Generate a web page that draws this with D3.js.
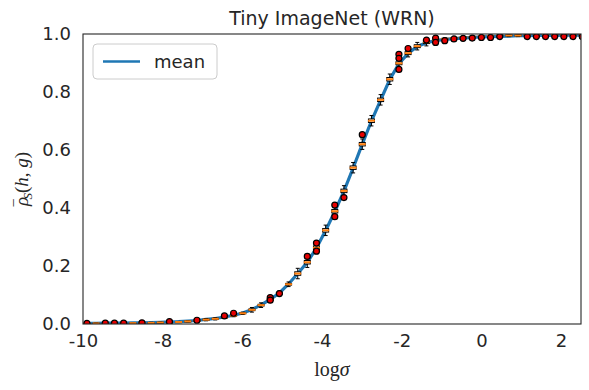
<!DOCTYPE html>
<html>
<head>
<meta charset="utf-8">
<script src="https://d3js.org/d3.v7.min.js"></script>
<style>
  body { margin: 0; background: #fff; }
  text { font-family: "DejaVu Sans", sans-serif; fill: #262626; }
</style>
</head>
<body>
<div class="sigmoid-chart"></div>
<script>
// log sigma positions (one box per sigma)
let logSigma = [-9.90,-9.67,-9.44,-9.21,-8.98,-8.75,-8.52,-8.29,-8.06,-7.83,-7.60,-7.37,-7.14,-6.91,-6.68,-6.45,-6.22,-5.99,-5.76,-5.53,-5.30,-5.07,-4.84,-4.61,-4.37,-4.14,-3.91,-3.68,-3.45,-3.22,-2.99,-2.76,-2.53,-2.30,-2.07,-1.84,-1.61,-1.38,-1.15,-0.92,-0.69,-0.46,-0.23,0.00,0.23,0.46,0.69,0.92,1.15,1.38,1.61,1.84,2.07,2.30,2.53];
let meanRho = [0.002,0.002,0.003,0.003,0.003,0.004,0.004,0.005,0.006,0.007,0.008,0.010,0.012,0.016,0.019,0.024,0.030,0.038,0.050,0.066,0.085,0.107,0.138,0.174,0.213,0.262,0.322,0.388,0.458,0.538,0.620,0.700,0.772,0.843,0.898,0.933,0.957,0.970,0.977,0.981,0.984,0.986,0.988,0.990,0.991,0.992,0.993,0.994,0.994,0.995,0.995,0.995,0.996,0.996,0.996];
let medianRho = [0.002,0.002,0.002,0.003,0.003,0.003,0.004,0.004,0.005,0.006,0.007,0.009,0.011,0.015,0.018,0.023,0.029,0.037,0.049,0.065,0.084,0.106,0.137,0.174,0.213,0.263,0.323,0.389,0.459,0.539,0.620,0.701,0.773,0.844,0.899,0.934,0.958,0.972,0.979,0.983,0.986,0.988,0.990,0.992,0.993,0.994,0.995,0.995,0.996,0.996,0.997,0.997,0.997,0.997,0.997];
// half height of the box (IQR) and of the whiskers
let boxHalf = [0.001,0.001,0.001,0.001,0.001,0.001,0.001,0.001,0.001,0.001,0.001,0.001,0.002,0.002,0.002,0.002,0.002,0.002,0.003,0.003,0.003,0.003,0.003,0.006,0.006,0.006,0.006,0.006,0.006,0.006,0.006,0.006,0.006,0.006,0.005,0.005,0.005,0.005,0.002,0.002,0.002,0.002,0.002,0.002,0.002,0.002,0.002,0.002,0.002,0.002,0.002,0.002,0.002,0.002,0.002];
let whiskHalf = [0.002,0.002,0.002,0.002,0.002,0.002,0.002,0.002,0.002,0.002,0.002,0.002,0.004,0.004,0.004,0.004,0.004,0.004,0.008,0.008,0.008,0.008,0.008,0.018,0.018,0.018,0.018,0.018,0.018,0.018,0.018,0.018,0.018,0.018,0.013,0.013,0.013,0.013,0.004,0.004,0.004,0.004,0.004,0.004,0.004,0.004,0.004,0.004,0.004,0.004,0.004,0.004,0.004,0.004,0.004];
// outlier points
let outlierX = [-9.90,-9.44,-9.21,-8.98,-8.52,-7.83,-7.14,-6.45,-6.22,-5.30,-5.30,-5.07,-4.37,-4.14,-4.14,-3.68,-3.68,-3.45,-2.99,-2.07,-2.07,-2.07,-1.84,-1.38,-1.15,-1.15,-0.92,-0.69,-0.46,-0.23,0.00,0.23,0.46,1.15,1.38,1.61,1.84,2.07,2.30,2.53];
let outlierY = [0.002,0.003,0.003,0.003,0.004,0.008,0.013,0.028,0.037,0.091,0.082,0.105,0.233,0.279,0.251,0.410,0.370,0.436,0.653,0.930,0.916,0.878,0.950,0.979,0.986,0.971,0.977,0.983,0.985,0.986,0.988,0.988,0.991,0.991,0.991,0.991,0.991,0.991,0.991,0.991];
let xTicks = [-10, -8, -6, -4, -2, 0, 2];
let yTicks = [0.0, 0.2, 0.4, 0.6, 0.8, 1.0];

let blue = "#1f77b4", orange = "#ff7f0e";

// set the dimensions and margins of the graph
let margin = { top: 34, right: 8, bottom: 66, left: 83 },
    width = 589 - margin.left - margin.right,
    height = 390 - margin.top - margin.bottom;

let root = d3.select(".sigmoid-chart")
    .append("svg")
    .attr("width", 589)
    .attr("height", 390);

let svg = root.append("g")
    .attr("transform", "translate(" + margin.left + "," + margin.top + ")");

root.append("defs").append("clipPath").attr("id", "plotclip")
    .append("rect").attr("width", width).attr("height", height);

let x = d3.scaleLinear().domain([-10, 2.5]).range([0, width]);
let y = d3.scaleLinear().domain([0, 1]).range([height, 0]);

let plot = svg.append("g").attr("clip-path", "url(#plotclip)");

// median dashed line (under the mean)
plot.append("path")
    .datum(logSigma)
    .attr("fill", "none")
    .attr("stroke", orange)
    .attr("stroke-width", 1.8)
    .attr("stroke-dasharray", "6,3")
    .attr("d", d3.line()
        .x(function (d) { return x(d) })
        .y(function (d, i) { return y(medianRho[i]) }));

// mean line
plot.append("path")
    .datum(logSigma)
    .attr("fill", "none")
    .attr("stroke", blue)
    .attr("stroke-width", 3.2)
    .attr("d", d3.line()
        .x(function (d) { return x(d) })
        .y(function (d, i) { return y(meanRho[i]) }));

// boxplots
let boxes = plot.selectAll(".box")
    .data(logSigma)
    .enter().append("g")
    .attr("class", "box");

boxes.append("line")
    .attr("x1", function (d) { return x(d) })
    .attr("x2", function (d) { return x(d) })
    .attr("y1", function (d, i) { return y(medianRho[i] + whiskHalf[i]) })
    .attr("y2", function (d, i) { return y(medianRho[i] - whiskHalf[i]) })
    .attr("stroke", "#000").attr("stroke-width", 1);

boxes.selectAll(".cap")
    .data(function (d, i) { return [[d, medianRho[i] + whiskHalf[i]], [d, medianRho[i] - whiskHalf[i]]] })
    .enter().append("line")
    .attr("class", "cap")
    .attr("x1", function (d) { return x(d[0]) - 2 })
    .attr("x2", function (d) { return x(d[0]) + 2 })
    .attr("y1", function (d) { return y(d[1]) })
    .attr("y2", function (d) { return y(d[1]) })
    .attr("stroke", "#000").attr("stroke-width", 1);

boxes.append("rect")
    .attr("x", function (d) { return x(d) - 3 })
    .attr("width", 6)
    .attr("y", function (d, i) { return y(medianRho[i] + boxHalf[i]) })
    .attr("height", function (d, i) { return Math.max(1, y(medianRho[i] - boxHalf[i]) - y(medianRho[i] + boxHalf[i])) })
    .attr("fill", "#fff")
    .attr("stroke", "#000").attr("stroke-width", 1);

boxes.append("line")
    .attr("x1", function (d) { return x(d) - 3.5 })
    .attr("x2", function (d) { return x(d) + 3.5 })
    .attr("y1", function (d, i) { return y(medianRho[i]) })
    .attr("y2", function (d, i) { return y(medianRho[i]) })
    .attr("stroke", orange).attr("stroke-width", 2);

// outliers
plot.selectAll(".outlier")
    .data(outlierX)
    .enter().append("circle")
    .attr("class", "outlier")
    .attr("cx", function (d) { return x(d) })
    .attr("cy", function (d, i) { return y(outlierY[i]) })
    .attr("r", 3)
    .attr("fill", "#e60000")
    .attr("stroke", "#000")
    .attr("stroke-width", 1.2);

// frame
svg.append("rect")
    .attr("width", width).attr("height", height)
    .attr("fill", "none")
    .attr("stroke", "#262626")
    .attr("stroke-width", 1.1);

// axes
let xAxis = svg.append("g")
    .attr("transform", "translate(0," + height + ")")
    .call(d3.axisBottom(x).tickValues(xTicks).tickSize(0).tickPadding(10).tickFormat(function (d) { return String(d) }));
xAxis.select(".domain").remove();
xAxis.selectAll("text").style("font-size", "18px").attr("dy", "0.71em");

let yAxis = svg.append("g")
    .call(d3.axisLeft(y).tickValues(yTicks).tickSize(0).tickPadding(12).tickFormat(d3.format(".1f")));
yAxis.select(".domain").remove();
yAxis.selectAll("text").style("font-size", "18px");

// title
svg.append("text")
    .attr("x", width / 2)
    .attr("y", -9)
    .attr("text-anchor", "middle")
    .style("font-size", "19px")
    .text("Tiny ImageNet (WRN)");

// x label
let xl = svg.append("text")
    .attr("x", width / 2)
    .attr("y", height + 52)
    .attr("text-anchor", "middle")
    .style("font-family", "'Liberation Serif', serif")
    .style("font-size", "20px");
xl.append("tspan").text("log");
xl.append("tspan").style("font-style", "italic").text("σ");

// y label
let yl = root.append("text")
    .attr("transform", "translate(28," + (margin.top + height / 2) + ") rotate(-90)")
    .attr("text-anchor", "middle")
    .style("font-family", "'Liberation Serif', serif")
    .style("font-size", "19px")
    .style("font-style", "italic");
yl.append("tspan").text("ρ");
yl.append("tspan").attr("dx", -9).style("font-style", "normal").text("\u203E");
yl.append("tspan").attr("dy", 4).style("font-size", "13px").text("S");
yl.append("tspan").attr("dy", -4).style("font-style", "normal").text("(");
yl.append("tspan").text("h");
yl.append("tspan").style("font-style", "normal").text(", ");
yl.append("tspan").text("g");
yl.append("tspan").style("font-style", "normal").text(")");

// legend
let legend = root.append("g").attr("transform", "translate(93,44)");
legend.append("rect")
    .attr("width", 124).attr("height", 35).attr("rx", 4)
    .attr("fill", "#fff").attr("stroke", "#cccccc").attr("stroke-width", 1);
legend.append("line")
    .attr("x1", 10).attr("x2", 47).attr("y1", 17.5).attr("y2", 17.5)
    .attr("stroke", blue).attr("stroke-width", 2.6);
legend.append("text")
    .attr("x", 61).attr("y", 23.5)
    .style("font-size", "18px")
    .text("mean");
</script>
</body>
</html>
